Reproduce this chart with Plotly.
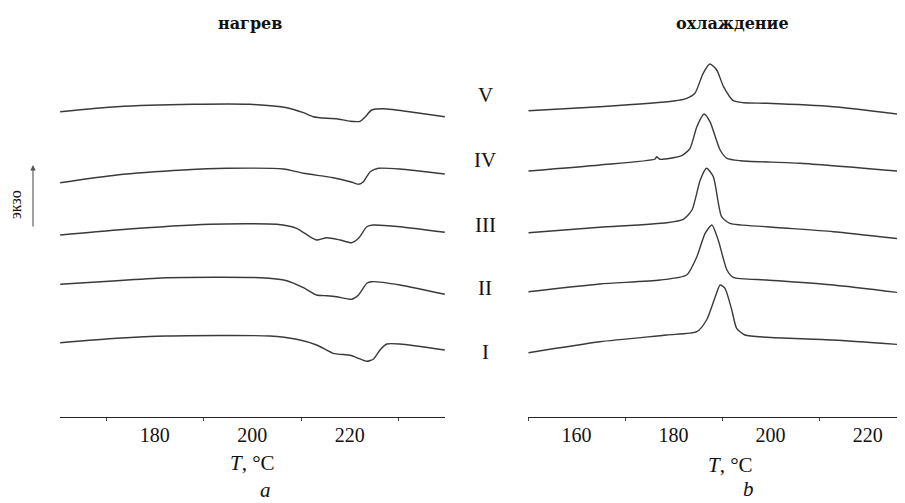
import plotly.graph_objects as go

# ---------------- data (arbitrary DSC units) ----------------
sample_labels = ["I", "II", "III", "IV", "V"]

# heating (нагрев), T in °C
heat_T_I = [160.6, 172.2, 182.5, 203.6, 209.1, 213.2, 216.6, 220.1, 221.8, 223.5, 224.9, 226.2, 227.6, 230.3, 239.5]
heat_y_I = [7.43, 7.87, 8.10, 8.10, 7.77, 7.20, 6.37, 6.17, 5.87, 5.57, 5.80, 6.70, 7.30, 7.30, 6.70]

heat_T_II = [160.6, 172.2, 182.5, 201.6, 207.1, 210.5, 213.2, 215.3, 217.3, 220.4, 221.8, 223.5, 224.5, 230.3, 239.5]
heat_y_II = [13.27, 13.63, 13.93, 13.93, 13.63, 12.93, 12.20, 12.13, 12.03, 11.77, 12.20, 13.37, 13.53, 13.20, 12.27]

heat_T_III = [160.6, 172.2, 191.3, 205.0, 209.1, 211.8, 213.2, 215.3, 218.0, 220.4, 221.8, 223.5, 224.8, 230.3, 239.5]
heat_y_III = [18.20, 18.70, 19.27, 19.27, 18.87, 18.03, 17.70, 17.93, 17.70, 17.43, 17.87, 19.03, 19.20, 19.03, 18.47]

heat_T_IV = [160.6, 172.2, 185.9, 194.8, 206.4, 210.5, 216.6, 220.1, 221.8, 222.8, 224.2, 225.9, 230.3, 239.5]
heat_y_IV = [23.43, 24.20, 24.70, 24.87, 24.80, 24.37, 23.93, 23.53, 23.27, 23.53, 24.53, 24.87, 24.80, 24.30]

heat_T_V = [160.6, 172.2, 187.9, 199.5, 207.1, 210.5, 212.5, 215.3, 217.3, 220.1, 222.1, 223.1, 224.5, 226.9, 233.7, 239.5]
heat_y_V = [30.53, 31.03, 31.27, 31.27, 30.93, 30.43, 30.03, 29.87, 29.83, 29.57, 29.57, 29.97, 30.70, 30.83, 30.43, 30.03]

# cooling (охлаждение), T in °C
cool_T_I = [150.1, 164.8, 178.6, 184.8, 186.8, 188.6, 189.6, 190.6, 192.0, 193.0, 194.7, 199.2, 212.9, 227.7]
cool_y_I = [6.43, 7.53, 8.20, 8.53, 9.70, 12.03, 13.20, 12.87, 10.70, 8.87, 8.20, 7.97, 7.70, 7.20]

cool_T_II = [150.1, 164.8, 177.2, 182.7, 184.8, 186.5, 187.9, 189.2, 191.0, 192.3, 199.2, 212.9, 227.7]
cool_y_II = [12.53, 13.30, 13.70, 14.20, 16.03, 18.37, 19.20, 17.70, 14.70, 13.97, 13.70, 13.20, 12.37]

cool_T_III = [150.1, 164.8, 178.6, 182.0, 183.8, 185.5, 186.8, 188.2, 189.9, 191.6, 199.2, 212.9, 227.7]
cool_y_III = [18.43, 18.97, 19.43, 19.77, 20.70, 23.70, 24.87, 24.03, 20.03, 19.37, 19.03, 18.53, 17.77]

cool_T_IV = [150.1, 164.8, 176.2, 176.5, 177.2, 181.7, 183.4, 184.8, 186.3, 187.5, 189.6, 191.0, 193.7, 206.1, 227.7]
cool_y_IV = [24.60, 25.20, 25.80, 26.03, 25.77, 26.13, 26.87, 29.03, 30.30, 29.53, 26.70, 25.87, 25.63, 25.37, 24.53]

cool_T_V = [150.1, 164.8, 180.0, 182.7, 184.4, 186.1, 187.5, 188.9, 190.3, 192.3, 194.4, 199.2, 212.9, 227.8]
cool_y_V = [30.63, 31.03, 31.60, 31.87, 32.37, 34.37, 35.30, 34.70, 33.03, 31.63, 31.43, 31.37, 31.03, 30.20]

heat_T = [heat_T_I, heat_T_II, heat_T_III, heat_T_IV, heat_T_V]
heat_y = [heat_y_I, heat_y_II, heat_y_III, heat_y_IV, heat_y_V]
cool_T = [cool_T_I, cool_T_II, cool_T_III, cool_T_IV, cool_T_V]
cool_y = [cool_y_I, cool_y_II, cool_y_III, cool_y_IV, cool_y_V]

heat_ticks = [180, 200, 220]
cool_ticks = [160, 180, 200, 220]

# ---------------- layout helpers ----------------
W, H = 905, 503
OFF = 8  # page body margin in the browser


def px(sx, sy):
    """screen pixel -> paper coordinates"""
    return (sx - OFF) / W, 1 - (sy - OFF) / H


LINE = dict(color="#3a3a3a", width=1.4, shape="spline", smoothing=0.6)
SERIF = "Liberation Serif"

fig = go.Figure()
for T, y, lab in zip(heat_T, heat_y, sample_labels):
    fig.add_trace(go.Scatter(x=T, y=y, mode="lines", line=LINE, name=lab,
                             xaxis="x", yaxis="y", showlegend=False))
for T, y, lab in zip(cool_T, cool_y, sample_labels):
    fig.add_trace(go.Scatter(x=T, y=y, mode="lines", line=LINE, name=lab,
                             xaxis="x2", yaxis="y2", showlegend=False))

axis_common = dict(
    showline=True, linecolor="#222", linewidth=1.2, showgrid=False, zeroline=False,
    ticks="", tickfont=dict(family=SERIF, size=20, color="#111"),
    minor=dict(ticks="outside", ticklen=3, tickcolor="#444", tick0=170, dtick=20, showgrid=False),
)
yb = px(0, 417)[1]
yt = px(0, 40)[1]
yaxis_common = dict(visible=False, range=[0, 37.7], showgrid=False, zeroline=False)

fig.update_layout(
    width=W, height=H,
    margin=dict(l=0, r=0, t=0, b=0),
    paper_bgcolor="white", plot_bgcolor="white",
    xaxis=dict(domain=[px(60, 0)[0], px(445, 0)[0]], range=[160.56, 239.54], anchor="y",
               tickvals=heat_ticks, **axis_common),
    xaxis2=dict(domain=[px(528, 0)[0], 1.0], range=[150.0, 229.35], anchor="y2",
                tickvals=cool_ticks, **axis_common),
    yaxis=dict(domain=[yb, yt], anchor="x", **yaxis_common),
    yaxis2=dict(domain=[yb, yt], anchor="x2", **yaxis_common),
)


def note(text, sx, sy, size, **kw):
    x, y = px(sx, sy)
    d = dict(text=text, x=x, y=y, xref="paper", yref="paper", showarrow=False,
             xanchor="center", yanchor="middle",
             font=dict(family=kw.pop("family", SERIF), size=size, color="#111"))
    d.update(kw)
    return d


ann = [
    note("<b>нагрев</b>", 250, 23, 16, family="DejaVu Serif"),
    note("<b>охлаждение</b>", 732, 23, 16, family="DejaVu Serif"),
    note("<i>T</i>, °C", 252, 463, 21),
    note("<i>T</i>, °C", 730, 465, 21),
    note("<i>a</i>", 265, 490, 21),
    note("<i>b</i>", 748, 489, 21),
]
for lab, yc in zip(sample_labels, [352, 288, 225, 160, 95]):
    ann.append(note(lab, 485, yc, 21))
ann.append(note("экзо", 15, 205, 16, textangle=-90))
ax_, ay_ = px(33, 165)
ann.append(dict(text="", x=ax_, y=ay_, xref="paper", yref="paper",
                ax=0, ay=63, showarrow=True, arrowhead=2, arrowsize=1, arrowwidth=1.1,
                arrowcolor="#555"))
fig.update_layout(annotations=ann)

fig.write_html("out.html")
